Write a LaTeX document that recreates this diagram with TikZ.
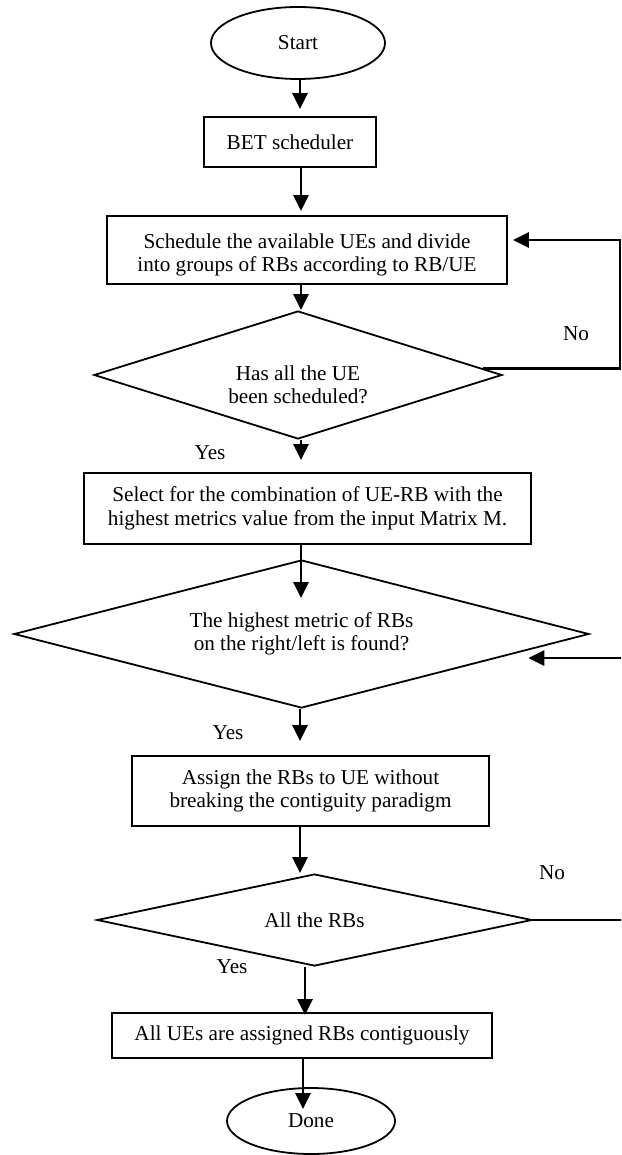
\documentclass[tikz,border=0pt]{standalone}
\usepackage{fontspec}
\setmainfont{Liberation Serif}
\usetikzlibrary{shapes.geometric,arrows.meta}
\begin{document}
\begin{tikzpicture}[x=1pt,y=-1pt,
  base/.style={font=\fontsize{21.2}{23.5}\selectfont, align=center, inner sep=0pt, line width=1.8pt},
  procbox/.style={base, draw, rectangle},
  term/.style={base, draw, ellipse},
  decision/.style={base, draw, diamond},
  lbl/.style={font=\fontsize{21.2}{23.5}\selectfont, align=center, inner sep=0pt},
  arr/.style={line width=2.8pt, -{Triangle[length=16pt,width=15pt]}}]
\useasboundingbox (0,0) rectangle (621,1155);
\fill[white] (0,0) rectangle (621,1155);
\clip (0,0) rectangle (621,1155);

\node[term, minimum width=174pt, minimum height=72pt] (start) at (298,43) {Start};
\node[procbox, minimum width=172pt, minimum height=50pt] (bet) at (290,142) {BET scheduler};
\node[procbox, minimum width=400pt, minimum height=68pt] (sched) at (307,250) {};
\node[lbl] (schedt) at (307,255)
  {Schedule the available UEs and divide\\into groups of RBs according to RB/UE};
\node[decision, shape aspect=3.2, minimum width=408pt, minimum height=128pt] (d1) at (298,375) {};
\node[lbl] (d1t) at (298,385) {Has all the UE\\been scheduled?};
\node[procbox, minimum width=447pt, minimum height=71pt] (sel) at (307.5,508.5)
  {Select for the combination of UE-RB with the\\highest metrics value from the input Matrix M.};
\node[decision, shape aspect=3.9, minimum width=575pt, minimum height=148pt] (d2) at (301.5,634)
  {The highest metric of RBs\\on the right/left is found?};
\node[procbox, minimum width=357pt, minimum height=70pt] (asg) at (310.5,791)
  {Assign the RBs to UE without\\breaking the contiguity paradigm};
\node[decision, shape aspect=4.7, minimum width=435pt, minimum height=92pt] (d3) at (314.5,920)
  {All the RBs};
\node[procbox, minimum width=380pt, minimum height=45pt] (all) at (302,1035.5)
  {All UEs are assigned RBs contiguously};
\node[term, minimum width=168pt, minimum height=66pt] (done) at (311,1121) {Done};

\node[lbl] (no1) at (576,334) {No};
\node[lbl] (no2) at (552,873) {No};
\node[lbl] (yes1) at (210,453) {Yes};
\node[lbl] (yes2) at (228,733) {Yes};
\node[lbl] (yes3) at (232,967) {Yes};

\coordinate (x300) at (300,0);
\coordinate (x301) at (301,0);
\coordinate (x303) at (303,0);
\coordinate (x305) at (305,0);
\coordinate (r1) at (620,300);
\coordinate (r2) at (626,800);

\draw[arr, shorten >=7pt] (start.south -| x300) -- (bet.north -| x300);
\draw[arr, shorten >=4pt] (bet.south -| x301) -- (sched.north -| x301);
\draw[arr] (sched.south -| x301) -- (d1.north -| x301);
\draw[arr, shorten >=12pt] (d1.south -| x301) -- (sel.north -| x301);
\draw[arr, shorten >=-39pt] (sel.south -| x301) -- (d2.north -| x301);
\draw[arr, shorten >=14pt] (d2.south -| x300) -- (asg.north -| x300);
\draw[arr] (asg.south -| x300) -- (d3.north -| x300);
\draw[arr, shorten >=-3pt] (d3.south -| x305) -- (all.north -| x305);
\draw[arr, shorten >=-22pt] (all.south -| x303) -- (done.north -| x303);

\draw[arr, shorten >=5pt] (d1.2) -| (r1) |- ([yshift=10pt]sched.east);
\draw[arr, shorten >=31pt] (d3.east) -| (r2) |- (d2.353);
\end{tikzpicture}
\end{document}
